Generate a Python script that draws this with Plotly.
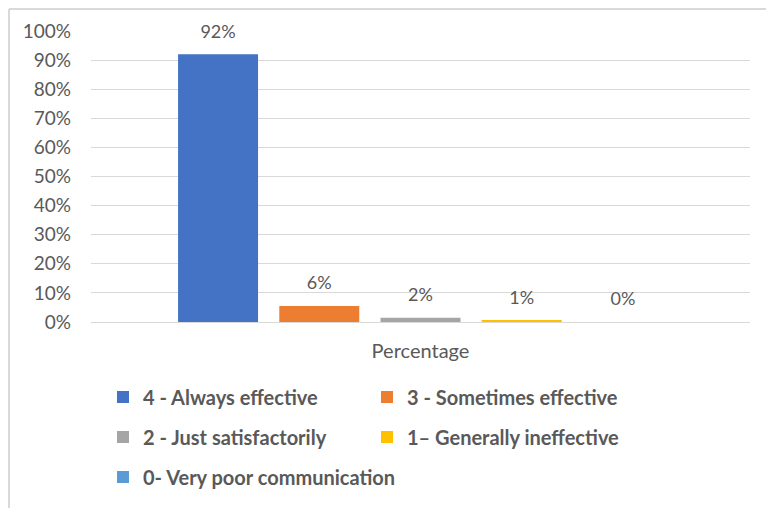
import plotly.graph_objects as go

categories = ["Percentage"]
series_names = [
    "4 - Always effective",
    "3 - Sometimes effective",
    "2 - Just satisfactorily",
    "1– Generally ineffective",
    "0- Very poor communication",
]
series_values = [0.92, 0.055, 0.015, 0.005, 0.0]
value_labels = ["92%", "6%", "2%", "1%", "0%"]
colors = ["#4472C4", "#ED7D31", "#A5A5A5", "#FFC000", "#5B9BD5"]
legend_ids = ["legend", "legend", "legend2", "legend2", "legend3"]

tick_vals = [i / 10 for i in range(11)]
tick_text = [f"{i * 10}%" for i in range(11)]

FONT = "Lato"
TXT = "#595959"

fig = go.Figure()
for i, (name, val, col, lg) in enumerate(zip(series_names, series_values, colors, legend_ids)):
    fig.add_trace(go.Bar(
        x=categories, y=[val], name=name, marker_color=col,
        marker_line_width=0, offsetgroup=str(i),
        legend=lg,
    ))
for i, (val, lab) in enumerate(zip(series_values, value_labels)):
    fig.add_trace(go.Scatter(
        x=categories, y=[val], text=[lab], mode="markers+text",
        marker=dict(size=18, opacity=0), textposition="top center",
        textfont=dict(family=FONT, size=18, color=TXT),
        offsetgroup=str(i), showlegend=False, cliponaxis=False,
        hoverinfo="skip",
    ))

legend_font = dict(family=FONT, size=20, color=TXT, weight="bold")
legend_common = dict(orientation="h", xanchor="left", yanchor="middle",
                     bgcolor="rgba(0,0,0,0)", font=legend_font)

fig.update_layout(
    width=774, height=508,
    margin=dict(l=83, r=32, t=23, b=194, autoexpand=False),
    paper_bgcolor="white", plot_bgcolor="white",
    barmode="group", bargap=0.232, bargroupgap=0.21,
    scattermode="group", scattergap=0.232,
    font=dict(family=FONT, size=18, color=TXT),
    xaxis=dict(showline=True, linecolor="#D9D9D9", linewidth=1, ticks="",
               ticklabelstandoff=11,
               tickfont=dict(family=FONT, size=20, color=TXT)),
    yaxis=dict(range=[0, 1], tickvals=tick_vals, ticktext=tick_text,
               showgrid=True, gridcolor="#D9D9D9", gridwidth=1,
               zeroline=False, showline=False, ticks="",
               ticklabelstandoff=19,
               tickfont=dict(family=FONT, size=19, color=TXT)),
    legend=dict(x=0.0182, y=-0.2577, entrywidth=219, **legend_common),
    legend2=dict(x=0.0182, y=-0.395, entrywidth=219, **legend_common),
    legend3=dict(x=0.0182, y=-0.533, entrywidth=320, **legend_common),
    showlegend=True,
    shapes=[
        dict(type="line", xref="paper", yref="paper", x0=-0.1244, x1=1.1, y0=1.0756, y1=1.0756,
             line=dict(color="#D9D9D9", width=2)),
        dict(type="line", xref="paper", yref="paper", x0=-0.1244, x1=-0.1244, y0=1.0756, y1=-0.7,
             line=dict(color="#D9D9D9", width=2)),
    ],
)

fig.write_html("out.html")
